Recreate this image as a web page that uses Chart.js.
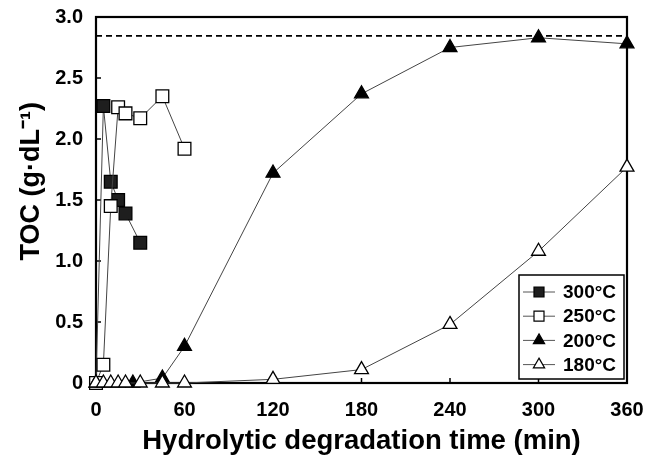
<!DOCTYPE html>
<html>
<head>
<meta charset="utf-8">
<script src="https://cdn.jsdelivr.net/npm/chart.js@4.4.0/dist/chart.umd.min.js"></script>
<style>
  body { margin: 0; background: #fff; }
  canvas { display: block; }
</style>
</head>
<body>
<canvas id="tocChart" width="647" height="457"></canvas>
<script>
// Sampling times (min) and TOC values (g/dL) for each temperature
const times300 = [0, 5, 10, 15, 20, 30];
const toc300 = [0, 2.27, 1.65, 1.50, 1.39, 1.15];

const times250 = [0, 5, 10, 15, 20, 30, 45, 60];
const toc250 = [0, 0.15, 1.45, 2.26, 2.21, 2.17, 2.35, 1.92];

const times200 = [0, 25, 45, 60, 120, 180, 240, 300, 360];
const toc200 = [0, 0, 0.04, 0.30, 1.72, 2.37, 2.75, 2.83, 2.78];

const times180 = [0, 5, 10, 15, 20, 30, 45, 60, 120, 180, 240, 300, 360];
const toc180 = [0, 0, 0, 0, 0, 0, 0, 0, 0.03, 0.11, 0.48, 1.08, 1.77];

// Theoretical TOC plateau (dashed line)
const plateauTimes = [0, 360];
const plateauToc = [2.845, 2.845];

const seriesLabels = ['300°C', '250°C', '200°C', '180°C'];
const xTicks = [0, 60, 120, 180, 240, 300, 360];
const yTicks = [0, 0.5, 1.0, 1.5, 2.0, 2.5, 3.0];

const FONT = "'Liberation Sans', Arial, sans-serif";

function toPoints(xs, ys) {
    return xs.map((x, i) => ({ x: x, y: ys[i] }));
}

// Frame and inward tick marks
const framePlugin = {
    id: 'frame',
    beforeDatasetsDraw(chart) {
        const { ctx, chartArea: a, scales } = chart;
        ctx.save();
        ctx.strokeStyle = '#000';
        ctx.lineWidth = 2.2;
        ctx.strokeRect(a.left, a.top, a.right - a.left, a.bottom - a.top);
        ctx.lineWidth = 1.5;
        ctx.beginPath();
        xTicks.forEach(v => {
            const px = scales.x.getPixelForValue(v);
            ctx.moveTo(px, a.bottom);
            ctx.lineTo(px, a.bottom - 5);
        });
        yTicks.forEach(v => {
            const py = scales.y.getPixelForValue(v);
            ctx.moveTo(a.left, py);
            ctx.lineTo(a.left + 5, py);
        });
        ctx.stroke();
        ctx.restore();
    }
};

// Legend box inside the plot, bottom right
const boxLegendPlugin = {
    id: 'boxLegend',
    afterDraw(chart) {
        const { ctx, chartArea: a } = chart;
        const w = 105, h = 104;
        const left = a.right - 3 - w;
        const top = a.bottom - 4 - h;
        ctx.save();
        ctx.fillStyle = '#fff';
        ctx.fillRect(left, top, w, h);
        ctx.strokeStyle = '#000';
        ctx.lineWidth = 1.5;
        ctx.strokeRect(left, top, w, h);
        ctx.font = 'bold 19px ' + FONT;
        ctx.textBaseline = 'middle';
        seriesLabels.forEach((label, i) => {
            const ds = chart.data.datasets[i];
            const y = top + 17 + i * 24.2;
            const x0 = left + 4;
            ctx.strokeStyle = '#555';
            ctx.lineWidth = 1;
            ctx.beginPath();
            ctx.moveTo(x0, y);
            ctx.lineTo(x0 + 32, y);
            ctx.stroke();
            const cx = x0 + 16;
            ctx.fillStyle = ds.pointBackgroundColor;
            ctx.strokeStyle = '#000';
            ctx.lineWidth = 1.2;
            ctx.beginPath();
            if (ds.pointStyle === 'rect') {
                ctx.rect(cx - 5, y - 5, 10, 10);
            } else {
                const r = 6.5;
                ctx.moveTo(cx, y - r);
                ctx.lineTo(cx + r * 0.866, y + r * 0.5);
                ctx.lineTo(cx - r * 0.866, y + r * 0.5);
                ctx.closePath();
            }
            ctx.fill();
            ctx.stroke();
            ctx.fillStyle = '#000';
            ctx.fillText(label, x0 + 40, y + 1);
        });
        ctx.restore();
    }
};

function series(label, xs, ys, style, fill, radius, order) {
    return {
        label: label,
        data: toPoints(xs, ys),
        borderColor: '#444',
        borderWidth: 1,
        pointStyle: style,
        pointRadius: radius,
        pointBackgroundColor: fill,
        pointBorderColor: '#000',
        pointBorderWidth: 1.3,
        showLine: true,
        clip: false,
        order: order
    };
}

const ctx = document.getElementById('tocChart').getContext('2d');
window.tocChartInstance = new Chart(ctx, {
    type: 'scatter',
    data: {
        datasets: [
            series(seriesLabels[0], times300, toc300, 'rect', '#1e1e1e', 9, 4),
            series(seriesLabels[1], times250, toc250, 'rect', '#fff', 9, 3),
            series(seriesLabels[2], times200, toc200, 'triangle', '#000', 8, 2),
            series(seriesLabels[3], times180, toc180, 'triangle', '#fff', 8, 1),
            {
                label: 'plateau',
                data: toPoints(plateauTimes, plateauToc),
                borderColor: '#000',
                borderWidth: 1.6,
                borderDash: [6, 4],
                pointRadius: 0,
                showLine: true,
                order: 5
            }
        ]
    },
    options: {
        responsive: false,
        animation: false,
        layout: { padding: { top: 17, right: 20, left: 0, bottom: 0 } },
        plugins: {
            legend: { display: false },
            tooltip: { enabled: false }
        },
        scales: {
            x: {
                type: 'linear',
                min: 0,
                max: 360,
                afterFit(scale) {
                    scale.height = 74;
                    scale.paddingLeft = 0;
                    scale.paddingRight = 0;
                },
                afterBuildTicks(scale) { scale.ticks = xTicks.map(v => ({ value: v })); },
                grid: { display: false, drawTicks: false },
                border: { display: false },
                ticks: {
                    padding: 15,
                    maxRotation: 0,
                    color: '#000',
                    font: { family: FONT, size: 20, weight: 'bold' }
                },
                title: {
                    display: true,
                    text: 'Hydrolytic degradation time (min)',
                    color: '#000',
                    padding: { top: 0, bottom: 1.5 },
                    font: { family: FONT, size: 27.5, weight: 'bold', lineHeight: 1 }
                }
            },
            y: {
                min: 0,
                max: 3,
                afterFit(scale) {
                    scale.width = 96;
                    scale.paddingTop = 0;
                    scale.paddingBottom = 0;
                },
                afterBuildTicks(scale) { scale.ticks = yTicks.map(v => ({ value: v })); },
                grid: { display: false, drawTicks: false },
                border: { display: false },
                ticks: {
                    padding: 13,
                    color: '#000',
                    font: { family: FONT, size: 20, weight: 'bold' },
                    callback: v => v === 0 ? '0' : v.toFixed(1)
                },
                title: {
                    display: true,
                    // leading spaces nudge the rotated title upward like the original
                    text: '     TOC (g·dL⁻¹)',
                    color: '#000',
                    padding: { top: 15, bottom: 0 },
                    font: { family: FONT, size: 27, weight: 'bold' }
                }
            }
        }
    },
    plugins: [framePlugin, boxLegendPlugin]
});
</script>
</body>
</html>
